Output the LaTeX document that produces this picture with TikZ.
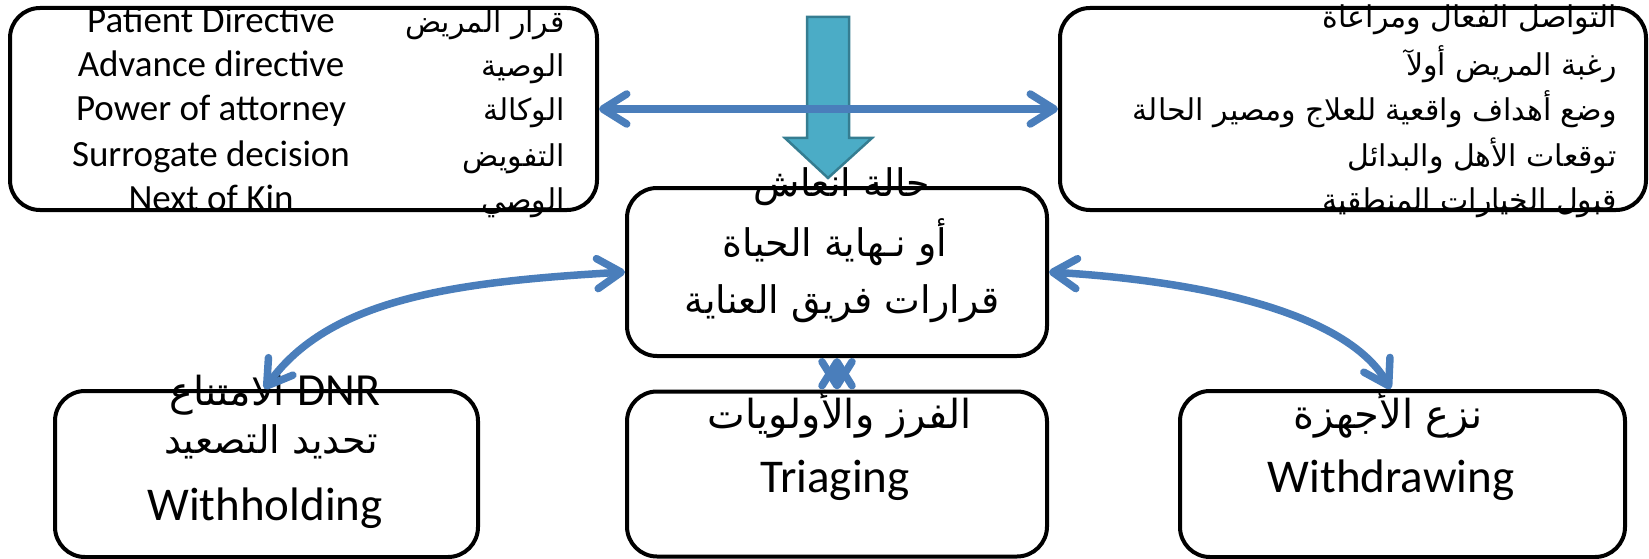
\documentclass[tikz,border=0pt]{standalone}
\usepackage{fontspec}
\setmainfont{Carlito}
\newfontfamily\lat{Carlito}
\newfontfamily\ar[Script=Arabic]{DejaVu Sans}
\TeXXeTstate=1
\usetikzlibrary{arrows.meta}
\definecolor{blu}{HTML}{4A7EBB}
\definecolor{tealf}{HTML}{4BACC6}
\definecolor{teald}{HTML}{357D91}
\begin{document}
\begin{tikzpicture}[x=1pt,y=-1pt,
  box/.style={draw=black, line width=4pt, rounded corners=30pt, inner sep=0pt},
  conn/.style={draw=blu, line width=7.5pt, line cap=round,
    >={Straight Barb[round,length=24pt,width=30pt]}, <->},
  en/.style={anchor=base, inner sep=0pt, font=\lat\fontsize{37}{40}\selectfont},
  arl/.style={anchor=base east, inner sep=0pt, font=\ar\fontsize{30}{36}\selectfont},
  big/.style={anchor=base, inner sep=0pt, font=\lat\fontsize{47}{52}\selectfont},
  arb/.style={anchor=base, inner sep=0pt, font=\ar\fontsize{38}{42}\selectfont},
  arc/.style={anchor=base, inner sep=0pt, font=\ar\fontsize{40}{44}\selectfont},
]
\useasboundingbox (0,0) rectangle (1649,559);

% texts
\node[en] (e1) at (211,33) {Patient Directive};
\node[en] (e2) at (211,77) {Advance directive};
\node[en] (e3) at (211,121) {Power of attorney};
\node[en] (e4) at (211,166) {Surrogate decision};
\node[en] (e5) at (211,210) {Next of Kin};
\node[arl] (a1) at (565,33) {\beginR قرار المريض\endR};
\node[arl] (a2) at (565,77) {\beginR الوصية\endR};
\node[arl] (a3) at (565,121) {\beginR الوكالة\endR};
\node[arl] (a4) at (565,166) {\beginR التفويض\endR};
\node[arl] (a5) at (565,210) {\beginR الوصي\endR};

\node[arl] (r1) at (1617,28) {\beginR التواصل الفعال ومراعاة\endR};
\node[arl] (r2) at (1617,76) {\beginR رغبة المريض أولآ\endR};
\node[arl] (r3) at (1617,121) {\beginR وضع أهداف واقعية للعلاج ومصير الحالة\endR};
\node[arl] (r4) at (1617,166) {\beginR توقعات الأهل والبدائل\endR};
\node[arl] (r5) at (1617,210) {\beginR قبول الخيارات المنطقية\endR};

\node[arb] (c1) at (842,196) {\beginR حالة انعاش\endR};
\node[arb] (c2) at (835,256) {\beginR أو نـهاية الحياة\endR};
\node[arb] (c3) at (842,313) {\beginR قرارات فريق العناية\endR};

\node[arc] (l1) at (275,405) {\beginR{\lat\fontsize{46}{48}\selectfont\beginL DNR\endL} الامتناع\endR};
\node[arb] (l2) at (271,453) {\beginR تحديد التصعيد\endR};
\node[big] (l3) at (265,520) {Withholding};

\node[arc] (m1) at (840,428) {\beginR الفرز والأولويات\endR};
\node[big] (m2) at (835,492) {Triaging};

\node[arc] (g1) at (1388,428) {\beginR نزع الأجهزة\endR};
\node[big] (g2) at (1391,492) {Withdrawing};

% boxes
\node[box, minimum width=587pt, minimum height=202pt] (tl) at (303.5,109) {};
\node[box, minimum width=586pt, minimum height=202pt] (tr) at (1353,109) {};
\node[box, minimum width=420pt, minimum height=168pt] (c) at (837,272) {};
\node[box, minimum width=423pt, minimum height=166pt] (bl) at (266.5,474) {};
\node[box, minimum width=420pt, minimum height=165pt] (bm) at (837,474) {};
\node[box, minimum width=445pt, minimum height=166pt] (br) at (1402.5,474) {};

% teal block arrow
\draw[fill=tealf, draw=teald, line width=2.5pt, line join=miter]
  (807,17) -- (849,17) -- (849,138) -- (872,138) -- (828,178) -- (785,138) -- (807,138) -- cycle;

% connectors
\draw[conn] (tl.east) -- (tr.west);
\draw[conn] (c.west) .. controls (453,282) and (329,299) .. ([xshift=-2pt]bl.north);
\draw[conn] (c.east) .. controls (1217,282) and (1350,317) .. ([xshift=-12pt]br.north);
\draw[conn] (c.south) -- (bm.north);
\end{tikzpicture}
\end{document}
